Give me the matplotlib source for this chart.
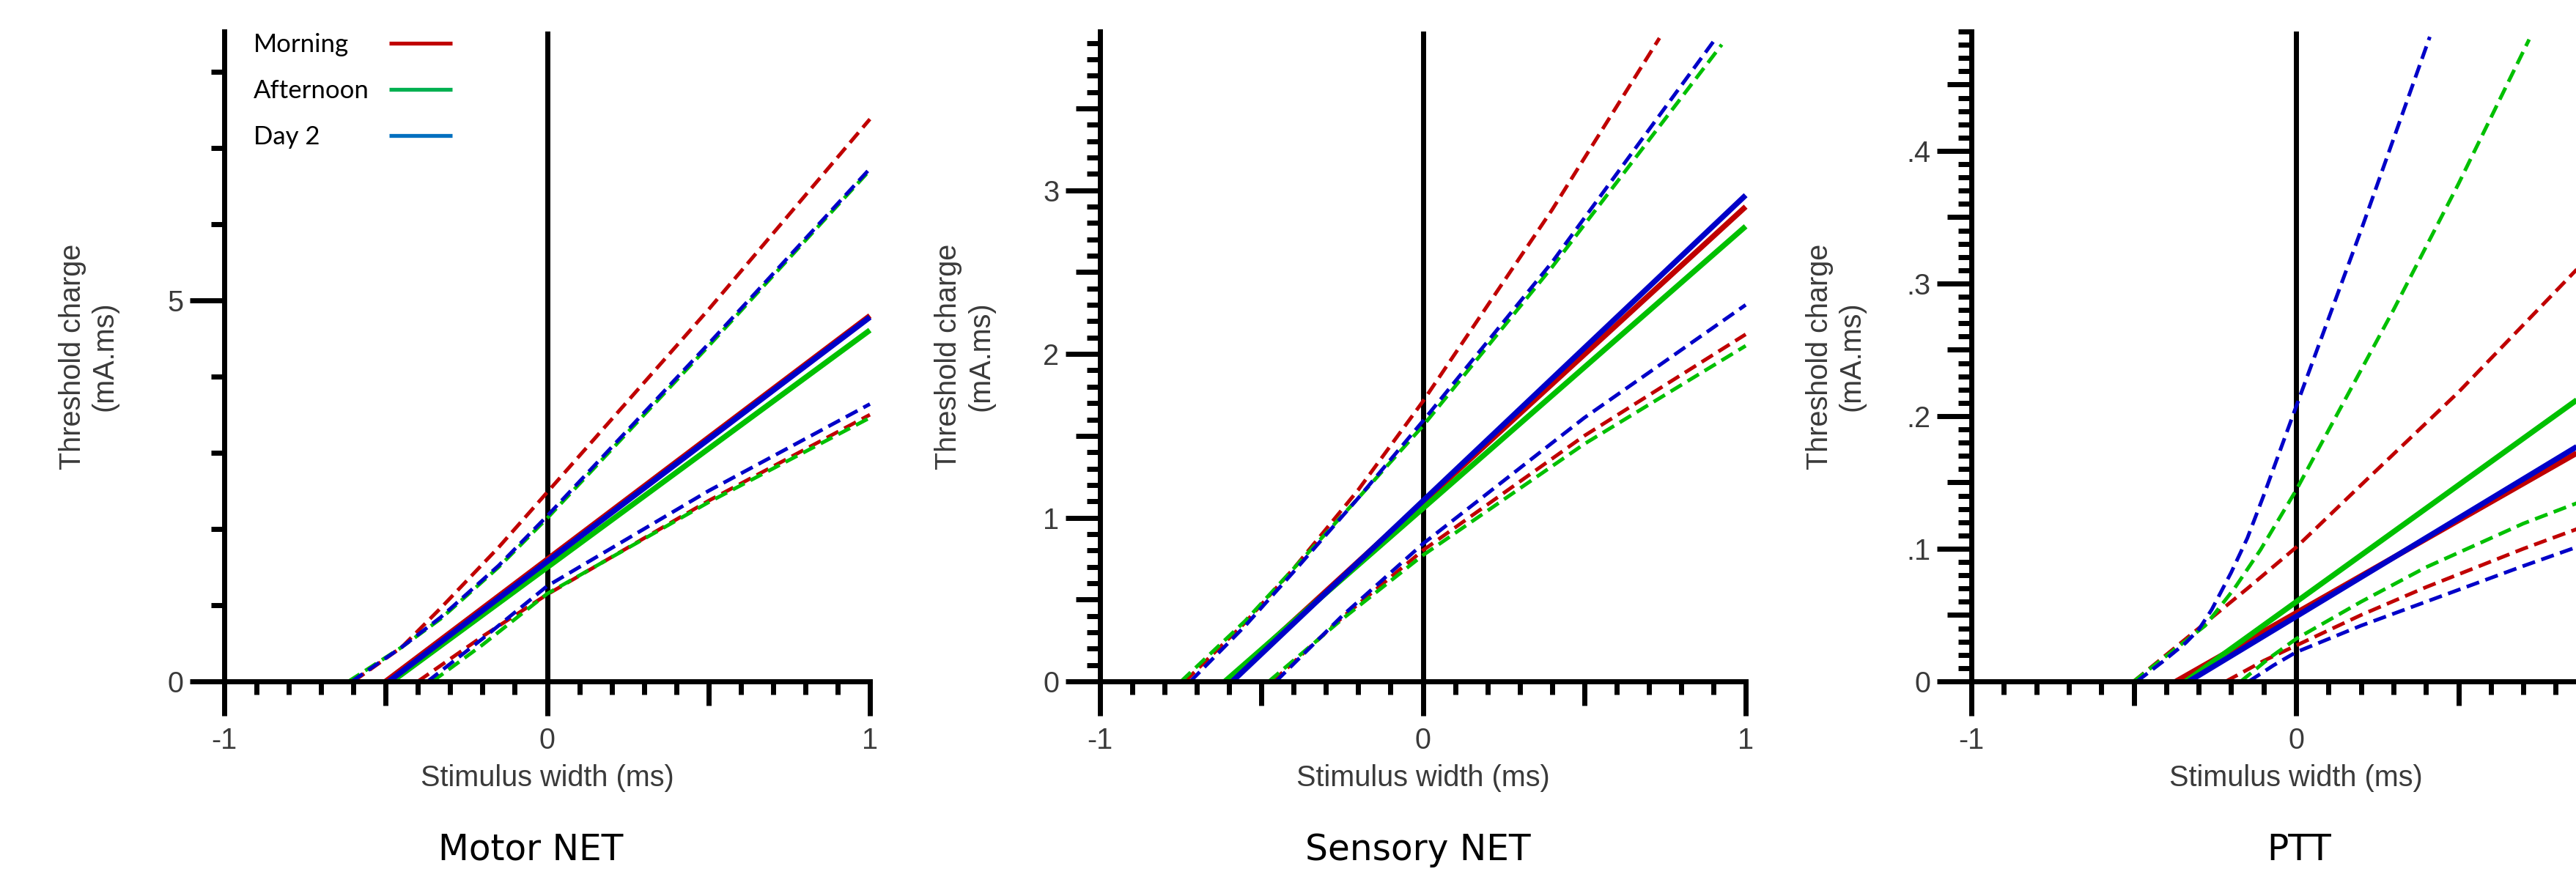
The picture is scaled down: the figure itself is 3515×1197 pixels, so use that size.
import matplotlib
matplotlib.use("Agg")
import matplotlib.pyplot as plt
from matplotlib.lines import Line2D
from matplotlib.ticker import FixedLocator, FixedFormatter, MultipleLocator, NullLocator
from matplotlib.font_manager import FontProperties

plt.rcParams['font.family'] = ['Liberation Sans', 'DejaVu Sans']
plt.rcParams['lines.scale_dashes'] = False

# ---------------- data ----------------
groups = ['Morning', 'Afternoon', 'Day 2']
line_colors = ['#C00000', '#00C000', '#0000C8']
legend_colors = ['#C00000', '#00B050', '#0070C0']

titles = ['Motor NET', 'Sensory NET', 'PTT']

x_ticks = [-1, 0, 1]
x_tick_labels = ['-1', '0', '1']
ptt_x_tick_labels = ['-1', '0', '']      # "1" falls outside the cropped picture
x_mid_ticks = [-0.5, 0.5]

# Motor NET  (regression line, upper / lower 95% bands): (x list, y list)
motor_fit = {
    'Morning':   ([-0.50, 1.0], [0.0, 4.80]),
    'Afternoon': ([-0.48, 1.0], [0.0, 4.61]),
    'Day 2':     ([-0.49, 1.0], [0.0, 4.78]),
}
motor_upper = {
    'Morning':   ([-0.60, -0.45, -0.33, -0.15, 0.0, 0.5, 1.0], [0.0, 0.45, 0.96, 1.76, 2.48, 4.88, 7.38]),
    'Afternoon': ([-0.615, -0.45, -0.33, -0.15, 0.0, 0.5, 1.0], [0.0, 0.45, 0.82, 1.50, 2.14, 4.40, 6.71]),
    'Day 2':     ([-0.605, -0.45, -0.33, -0.15, 0.0, 0.5, 1.0], [0.0, 0.45, 0.84, 1.52, 2.17, 4.43, 6.73]),
}
motor_lower = {
    'Morning':   ([-0.40, -0.2, 0.0, 0.5, 1.0], [0.0, 0.59, 1.14, 2.37, 3.50]),
    'Afternoon': ([-0.355, -0.2, 0.0, 0.5, 1.0], [0.0, 0.48, 1.15, 2.35, 3.46]),
    'Day 2':     ([-0.37, -0.2, 0.0, 0.5, 1.0], [0.0, 0.56, 1.25, 2.50, 3.64]),
}
motor_ymax = 8.53
motor_yticks = [0, 5]
motor_ytick_labels = ['0', '5']
motor_ymid_ticks = []
motor_yminor = 1.0

# Sensory NET
sensory_fit = {
    'Morning':   ([-0.605, 1.0], [0.0, 2.90]),
    'Afternoon': ([-0.613, 1.0], [0.0, 2.78]),
    'Day 2':     ([-0.59, 1.0], [0.0, 2.97]),
}
sensory_upper = {
    'Morning':   ([-0.737, -0.55, -0.4, -0.2, 0.0, 0.4, 0.733], [0.0, 0.36, 0.69, 1.17, 1.71, 2.88, 3.93]),
    'Afternoon': ([-0.749, -0.55, -0.4, -0.2, 0.0, 0.4, 0.926], [0.0, 0.37, 0.69, 1.12, 1.56, 2.53, 3.89]),
    'Day 2':     ([-0.72, -0.55, -0.4, -0.2, 0.0, 0.4, 0.908], [0.0, 0.34, 0.67, 1.12, 1.59, 2.56, 3.93]),
}
sensory_lower = {
    'Morning':   ([-0.465, -0.25, 0.0, 0.5, 1.0], [0.0, 0.39, 0.80, 1.50, 2.12]),
    'Afternoon': ([-0.477, -0.25, 0.0, 0.5, 1.0], [0.0, 0.38, 0.77, 1.45, 2.05]),
    'Day 2':     ([-0.455, -0.25, 0.0, 0.5, 1.0], [0.0, 0.40, 0.84, 1.61, 2.30]),
}
sensory_ymax = 3.97
sensory_yticks = [0, 1, 2, 3]
sensory_ytick_labels = ['0', '1', '2', '3']
sensory_ymid_ticks = [0.5, 1.5, 2.5, 3.5]
sensory_yminor = 0.1

# PTT
ptt_fit = {
    'Morning':   ([-0.37, 1.0], [0.0, 0.191]),
    'Afternoon': ([-0.34, 1.0], [0.0, 0.236]),
    'Day 2':     ([-0.33, 1.0], [0.0, 0.197]),
}
ptt_upper = {
    'Morning':   ([-0.50, -0.3, -0.15, 0.0, 0.2, 0.5, 1.0],
                  [0.0, 0.040, 0.070, 0.101, 0.148, 0.218, 0.345]),
    'Afternoon': ([-0.50, -0.28, -0.19, -0.11, 0.0, 0.3, 0.5, 0.718],
                  [0.0, 0.042, 0.070, 0.099, 0.144, 0.280, 0.375, 0.484]),
    'Day 2':     ([-0.49, -0.41, -0.34, -0.3, -0.26, -0.2, -0.15, -0.1, 0.0, 0.2, 0.412],
                  [0.0, 0.015, 0.029, 0.039, 0.054, 0.082, 0.108, 0.140, 0.207, 0.340, 0.486]),
}
ptt_lower = {
    'Morning':   ([-0.216, -0.1, 0.0, 0.2, 0.4, 0.7, 1.0], [0.0, 0.0155, 0.027, 0.050, 0.071, 0.100, 0.127]),
    'Afternoon': ([-0.17, -0.08, 0.0, 0.2, 0.4, 0.7, 1.0], [0.0, 0.018, 0.032, 0.060, 0.086, 0.119, 0.147]),
    'Day 2':     ([-0.145, -0.07, 0.0, 0.2, 0.4, 0.7, 1.0], [0.0, 0.012, 0.022, 0.042, 0.060, 0.087, 0.113]),
}
ptt_ymax = 0.49
ptt_yticks = [0, 0.1, 0.2, 0.3, 0.4]
ptt_ytick_labels = ['0', '.1', '.2', '.3', '.4']
ptt_ymid_ticks = [0.05, 0.15, 0.25, 0.35, 0.45]
ptt_yminor = 0.01

panels = [
    (motor_fit, motor_upper, motor_lower, motor_ymax, motor_yticks, motor_ytick_labels,
     motor_ymid_ticks, motor_yminor, x_tick_labels),
    (sensory_fit, sensory_upper, sensory_lower, sensory_ymax, sensory_yticks, sensory_ytick_labels,
     sensory_ymid_ticks, sensory_yminor, x_tick_labels),
    (ptt_fit, ptt_upper, ptt_lower, ptt_ymax, ptt_yticks, ptt_ytick_labels,
     ptt_ymid_ticks, ptt_yminor, ptt_x_tick_labels),
]

# ---------------- layout ----------------
W, H = 3515, 1197
DPI = 100
fig = plt.figure(figsize=(W / DPI, H / DPI), dpi=DPI, facecolor='white')

AX_TOP, AX_BOTTOM = 43, 930
ax_lr = [(306, 1187), (1501, 2382), (2690, 3576)]
title_cx = [724, 1935, 3137]
TITLE_CY = 1160

AXIS_LW = 5.0
FIT_LW = 5.4
BAND_LW = 3.6
TEXT_GREY = '#3a3a3a'
LABEL_FS = 28.5
TITLE_FONT = FontProperties(family='DejaVu Sans', size=35)
DASH = (0, (13, 6.5))

axes = []
for i, (fit, upper, lower, ymax, yt, ytl, ymid, yminor, xtl) in enumerate(panels):
    left, right = ax_lr[i]
    ax = fig.add_axes([left / W, 1 - AX_BOTTOM / H, (right - left) / W, (AX_BOTTOM - AX_TOP) / H])
    axes.append(ax)
    ax.set_facecolor('none')
    ax.set_xlim(-1, 1)
    ax.set_ylim(0, ymax)

    for s in ['top', 'right']:
        ax.spines[s].set_visible(False)
    for s in ['left', 'bottom']:
        ax.spines[s].set_linewidth(AXIS_LW)
        ax.spines[s].set_color('black')

    ax.xaxis.set_major_locator(FixedLocator(x_ticks))
    ax.xaxis.set_major_formatter(FixedFormatter(xtl))
    ax.xaxis.set_minor_locator(MultipleLocator(0.1))
    ax.yaxis.set_major_locator(FixedLocator(yt))
    ax.yaxis.set_major_formatter(FixedFormatter(ytl))
    ax.yaxis.set_minor_locator(MultipleLocator(yminor))

    ax.tick_params(axis='both', which='both', direction='out', color='black', width=AXIS_LW,
                   labelsize=LABEL_FS, labelcolor=TEXT_GREY)
    ax.tick_params(axis='both', which='major', length=34)
    ax.tick_params(axis='both', which='minor', length=13)
    ax.tick_params(axis='x', which='major', pad=11)
    ax.tick_params(axis='y', which='major', pad=6)

    # medium ticks through secondary axes
    secx = ax.secondary_xaxis('bottom')
    secx.xaxis.set_major_locator(FixedLocator(x_mid_ticks))
    secx.xaxis.set_minor_locator(NullLocator())
    secx.tick_params(axis='x', which='major', direction='out', length=23.5, width=AXIS_LW,
                     color='black', labelbottom=False, labeltop=False)
    for sp in secx.spines.values():
        sp.set_visible(False)
    if ymid:
        secy = ax.secondary_yaxis('left')
        secy.yaxis.set_major_locator(FixedLocator(ymid))
        secy.yaxis.set_minor_locator(NullLocator())
        secy.tick_params(axis='y', which='major', direction='out', length=23.5, width=AXIS_LW,
                         color='black', labelleft=False, labelright=False)
        for sp in secy.spines.values():
            sp.set_visible(False)

    # vertical line at x = 0
    ax.axvline(0, color='black', lw=AXIS_LW, zorder=1.5)

    # data
    for g, c in zip(groups, line_colors):
        ux, uy = upper[g]
        lx, ly = lower[g]
        ax.plot(ux, uy, color=c, lw=BAND_LW, linestyle=DASH, clip_on=False, zorder=2)
        ax.plot(lx, ly, color=c, lw=BAND_LW, linestyle=DASH, clip_on=False, zorder=2)
    for g, c in zip(groups, line_colors):
        fx, fy = fit[g]
        ax.plot(fx, fy, color=c, lw=FIT_LW, solid_capstyle='butt', clip_on=False, zorder=2.1)

    width_px = right - left
    ax.text(-185 / width_px, 0.5, 'Threshold charge\n(mA.ms)', transform=ax.transAxes,
            rotation=90, ha='center', va='center', multialignment='center',
            fontsize=LABEL_FS, color=TEXT_GREY, linespacing=1.2)
    ax.text(0.5, (AX_BOTTOM - 1062) / (AX_BOTTOM - AX_TOP), 'Stimulus width (ms)',
            transform=ax.transAxes, ha='center', va='center', fontsize=LABEL_FS, color=TEXT_GREY)

    fig.text(title_cx[i] / W, 1 - TITLE_CY / H, titles[i], fontproperties=TITLE_FONT,
             ha='center', va='center', color='black')

# ---------------- legend (first panel) ----------------
leg_prop = FontProperties(family='Lato', size=25)
renderer = fig.canvas.get_renderer()
fs_px = 25 * DPI / 72
ws, hs = [], []
for g in groups:
    t = fig.text(0, 0, g, fontproperties=leg_prop)
    bb = t.get_window_extent(renderer)
    ws.append(bb.width)
    hs.append(bb.height)
    t.remove()
wmax, hmax = max(ws), max(hs)
hl = 86 / fs_px
htp = 0.5
x0 = 346 - (hl + htp) * fs_px
cs = max(0.1, (531 - 346 - wmax) / fs_px)
ls = max(0.1, (63 - hmax) / fs_px)

handles = [Line2D([], [], color='none') for _ in groups] + \
          [Line2D([], [], color=c, lw=3.8, solid_capstyle='butt') for c in legend_colors]
labels = list(groups) + [' '] * len(groups)
axes[0].legend(handles, labels, ncol=2, loc='upper left', bbox_to_anchor=(x0 / W, 1 - 45 / H),
               bbox_transform=fig.transFigure, frameon=False, borderpad=0, borderaxespad=0,
               handlelength=hl, handletextpad=htp, columnspacing=cs, labelspacing=ls,
               prop=leg_prop)

fig.savefig('out.png', dpi=DPI, facecolor='white')
